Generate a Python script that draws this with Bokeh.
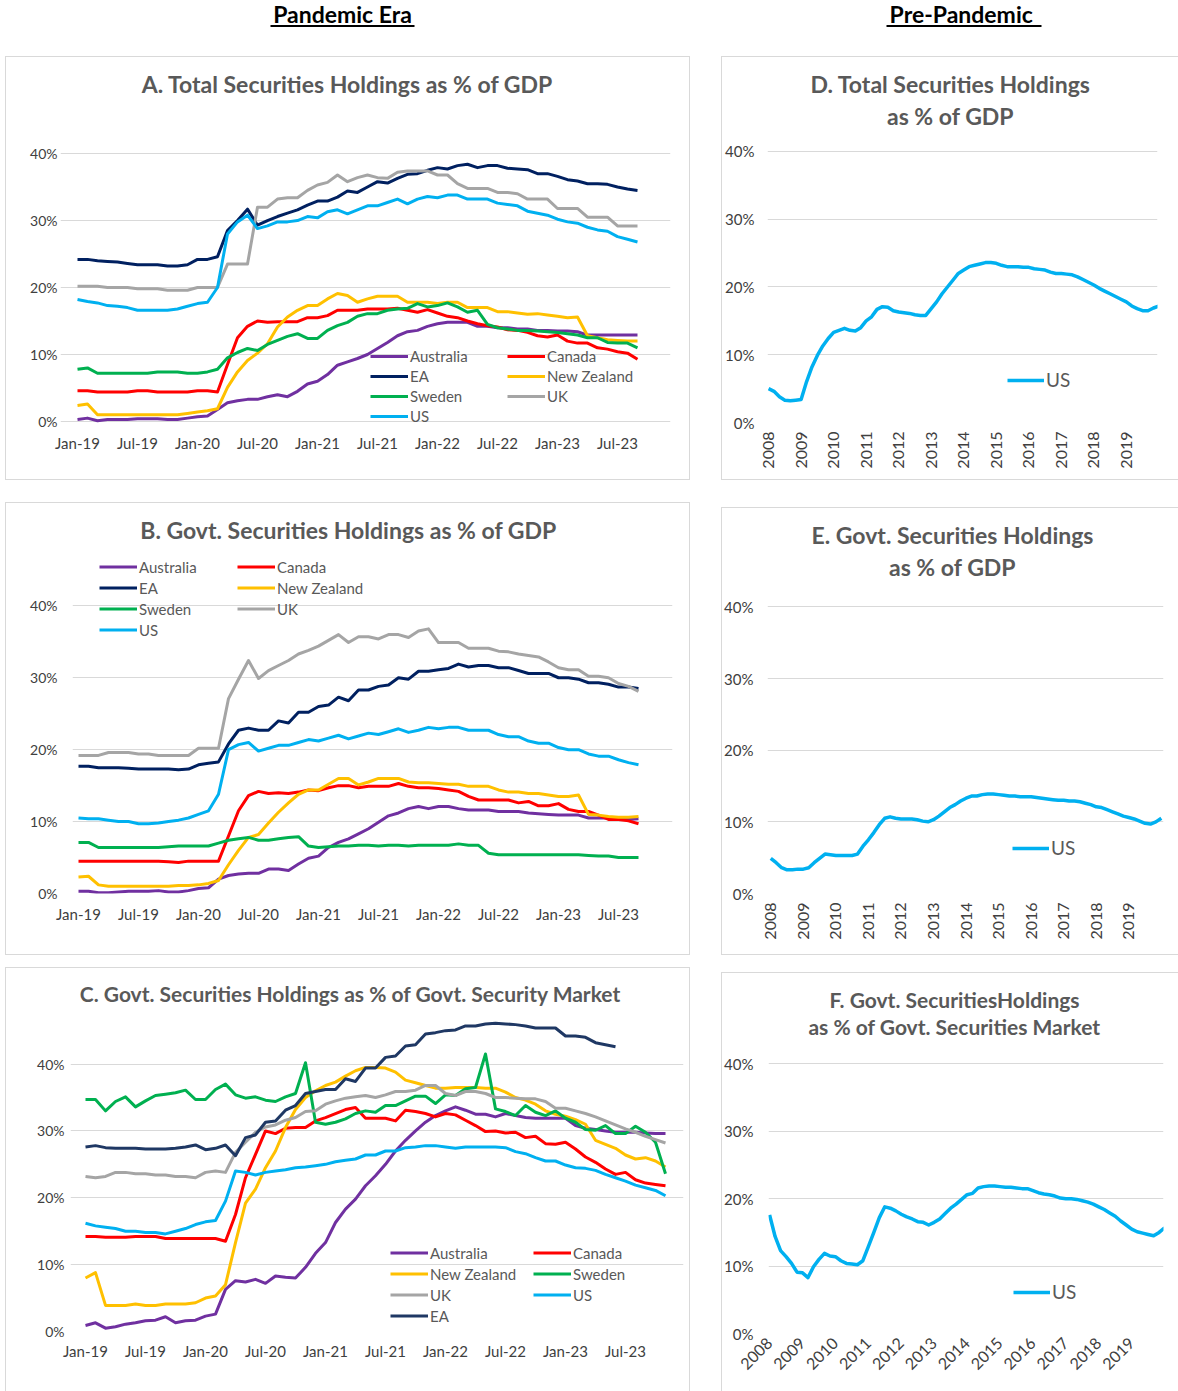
import math
from bokeh.plotting import figure
from bokeh.models import (FixedTicker, PrintfTickFormatter, Legend, LegendItem, Label,
                          ColumnDataSource, Spacer, Range1d)
from bokeh.layouts import column, row
from bokeh.embed import file_html
from bokeh.resources import INLINE
from bokeh.core.properties import value

FONT = "Lato"
TITLE_C = "#595959"
TICK_C = "#404040"
GRID_C = "#d9d9d9"

# ---------------- data ----------------
header_texts = ["Pandemic Era", "Pre-Pandemic "]
pandemic_tick_labels = ["Jan-19", "Jul-19", "Jan-20", "Jul-20", "Jan-21", "Jul-21",
                        "Jan-22", "Jul-22", "Jan-23", "Jul-23"]
prepandemic_tick_labels = ["2008", "2009", "2010", "2011", "2012", "2013",
                           "2014", "2015", "2016", "2017", "2018", "2019"]
percent_ticks = [0, 10, 20, 30, 40]

colors = {"Australia": "#7030A0", "Canada": "#FF0000", "EA": "#002060",
          "New Zealand": "#FFC000", "Sweden": "#00B050", "UK": "#A5A5A5", "US": "#00B0F0"}
ea_color_c = "#1F3864"

# A. Total securities holdings as % of GDP (Jan-19 .. Sep-23)
A_australia = [0.3, 0.5, 0.1, 0.3, 0.3, 0.3, 0.4, 0.4, 0.4, 0.3, 0.3, 0.5, 0.7, 0.8, 1.8, 2.8, 3.1, 3.3, 3.3, 3.7,
               4.0, 3.7, 4.5, 5.6, 6.0, 7.0, 8.4, 8.9, 9.4, 10.0, 10.9, 11.8, 12.8, 13.4, 13.6, 14.2, 14.6, 14.8, 14.8, 14.8,
               14.2, 14.2, 14.0, 14.0, 13.8, 13.8, 13.6, 13.6, 13.5, 13.5, 13.4, 12.9, 12.9, 12.9, 12.9, 12.9, 12.9]
A_canada = [4.6, 4.6, 4.4, 4.4, 4.4, 4.4, 4.6, 4.6, 4.4, 4.4, 4.4, 4.4, 4.6, 4.6, 4.4, 8.5, 12.5, 14.2, 15.0, 14.8,
            14.9, 14.9, 14.9, 15.5, 15.5, 15.8, 16.6, 16.6, 16.6, 16.8, 16.8, 16.8, 16.9, 16.6, 16.3, 16.7, 16.2, 15.7, 15.5, 15.0,
            14.6, 14.3, 14.1, 13.7, 13.6, 13.3, 12.8, 12.6, 12.9, 12.0, 11.7, 11.7, 11.0, 10.8, 10.4, 10.2, 9.3]
A_ea = [24.2, 24.2, 24.0, 23.9, 23.8, 23.6, 23.4, 23.4, 23.4, 23.2, 23.2, 23.4, 24.2, 24.2, 24.6, 28.5, 30.0, 31.7, 29.3, 30.0,
        30.6, 31.1, 31.6, 32.3, 32.9, 32.9, 33.5, 34.4, 34.2, 35.0, 35.8, 35.6, 36.3, 36.9, 37.0, 37.5, 37.9, 37.7, 38.2, 38.4,
        37.9, 38.2, 38.2, 37.8, 37.7, 37.6, 37.0, 37.0, 36.6, 36.1, 35.9, 35.5, 35.5, 35.4, 35.0, 34.7, 34.5]
A_nz = [2.4, 2.6, 1.0, 1.0, 1.0, 1.0, 1.0, 1.0, 1.0, 1.0, 1.0, 1.2, 1.4, 1.6, 1.9, 5.1, 7.4, 9.1, 10.2, 11.6,
        14.1, 15.6, 16.6, 17.3, 17.3, 18.3, 19.1, 18.8, 17.8, 18.3, 18.7, 18.7, 18.7, 17.8, 17.8, 17.8, 17.6, 17.8, 17.8, 17.0,
        17.0, 17.0, 16.4, 16.4, 16.2, 16.0, 16.1, 15.9, 15.7, 15.5, 15.6, 12.8, 12.5, 12.2, 12.1, 12.0, 12.0]
A_sweden = [7.8, 8.0, 7.2, 7.2, 7.2, 7.2, 7.2, 7.2, 7.4, 7.4, 7.4, 7.2, 7.2, 7.4, 7.8, 9.5, 10.3, 10.9, 10.6, 11.5,
            12.1, 12.7, 13.1, 12.4, 12.4, 13.6, 14.3, 14.8, 15.7, 16.1, 16.1, 16.6, 16.8, 16.9, 17.6, 17.1, 17.3, 17.7, 17.1, 16.3,
            16.6, 14.5, 14.0, 13.8, 13.6, 13.6, 13.5, 13.4, 13.3, 13.1, 12.9, 12.5, 12.5, 11.8, 11.7, 11.7, 11.0]
A_uk = [20.2, 20.2, 20.2, 20.0, 20.0, 20.0, 19.8, 19.8, 19.8, 19.6, 19.6, 19.6, 20.0, 20.0, 20.0, 23.5, 23.5, 23.5, 32.0, 32.0,
        33.2, 33.4, 33.4, 34.5, 35.3, 35.7, 36.8, 35.8, 36.4, 36.8, 36.4, 36.3, 37.2, 37.4, 37.4, 37.4, 36.8, 36.8, 35.5, 34.8,
        34.8, 34.8, 34.2, 34.2, 34.0, 33.2, 33.2, 33.2, 31.8, 31.8, 31.8, 30.5, 30.5, 30.5, 29.2, 29.2, 29.2]
A_us = [18.2, 17.9, 17.7, 17.3, 17.2, 17.0, 16.6, 16.6, 16.6, 16.6, 16.8, 17.2, 17.6, 17.8, 20.0, 28.0, 29.8, 30.8, 28.8, 29.2,
        29.8, 29.8, 30.0, 30.6, 30.4, 31.3, 31.6, 31.0, 31.6, 32.2, 32.2, 32.7, 33.2, 32.5, 33.2, 33.6, 33.4, 33.8, 33.8, 33.2,
        33.2, 33.2, 32.6, 32.4, 32.2, 31.4, 31.1, 30.8, 30.2, 29.8, 29.6, 29.0, 28.6, 28.4, 27.6, 27.2, 26.8]

# B. Govt. securities holdings as % of GDP (Jan-19 .. Sep-23)
B_australia = [0.3, 0.3, 0.1, 0.1, 0.2, 0.3, 0.3, 0.3, 0.4, 0.2, 0.2, 0.4, 0.7, 0.8, 2.0, 2.5, 2.7, 2.8, 2.8, 3.4,
               3.4, 3.2, 4.1, 4.9, 5.2, 6.4, 7.1, 7.6, 8.3, 9.0, 9.9, 10.8, 11.2, 11.8, 12.1, 11.8, 12.1, 12.1, 11.8, 11.6,
               11.6, 11.6, 11.4, 11.4, 11.4, 11.2, 11.1, 11.0, 10.9, 10.9, 10.9, 10.5, 10.5, 10.5, 10.4, 10.3, 10.4]
B_canada = [4.5, 4.5, 4.5, 4.5, 4.5, 4.5, 4.5, 4.5, 4.5, 4.4, 4.3, 4.5, 4.5, 4.5, 4.5, 8.0, 11.5, 13.6, 14.2, 13.9,
            14.0, 13.9, 14.1, 14.4, 14.3, 14.7, 15.0, 15.0, 14.7, 14.9, 14.9, 14.9, 15.3, 14.9, 14.7, 14.7, 14.6, 14.4, 14.2, 13.5,
            13.0, 13.0, 13.0, 13.0, 12.6, 12.8, 12.2, 12.2, 12.5, 11.7, 11.4, 11.4, 10.9, 10.3, 10.3, 10.1, 9.7]
B_ea = [17.7, 17.7, 17.5, 17.5, 17.5, 17.4, 17.3, 17.3, 17.3, 17.3, 17.2, 17.3, 17.9, 18.1, 18.3, 20.8, 22.7, 23.0, 22.7, 22.7,
        24.0, 23.7, 25.2, 25.2, 26.0, 26.2, 27.3, 26.8, 28.3, 28.3, 28.8, 29.0, 30.0, 29.8, 30.9, 30.9, 31.1, 31.3, 31.9, 31.5,
        31.7, 31.7, 31.4, 31.4, 31.0, 30.6, 30.6, 30.6, 30.0, 30.0, 29.8, 29.3, 29.3, 29.1, 28.7, 28.7, 28.5]
B_nz = [2.3, 2.4, 1.2, 1.0, 1.0, 1.0, 1.0, 1.0, 1.0, 1.0, 1.1, 1.1, 1.2, 1.4, 1.8, 4.0, 6.0, 7.8, 8.2, 9.8,
        11.3, 12.6, 13.8, 14.4, 14.4, 15.2, 16.0, 16.0, 15.1, 15.5, 16.0, 16.0, 16.0, 15.5, 15.4, 15.4, 15.3, 15.2, 15.2, 14.9,
        14.9, 14.9, 14.4, 14.1, 14.1, 13.9, 13.9, 13.7, 13.5, 13.5, 13.7, 11.0, 10.9, 10.7, 10.6, 10.6, 10.7]
B_sweden = [7.1, 7.1, 6.4, 6.4, 6.4, 6.4, 6.4, 6.4, 6.4, 6.5, 6.6, 6.6, 6.6, 6.6, 7.0, 7.4, 7.6, 7.8, 7.4, 7.4,
            7.6, 7.8, 7.9, 6.6, 6.4, 6.5, 6.6, 6.6, 6.7, 6.7, 6.6, 6.7, 6.7, 6.6, 6.7, 6.7, 6.7, 6.7, 6.9, 6.7,
            6.7, 5.6, 5.4, 5.4, 5.4, 5.4, 5.4, 5.4, 5.4, 5.4, 5.4, 5.3, 5.2, 5.2, 5.0, 5.0, 5.0]
B_uk = [19.2, 19.2, 19.2, 19.6, 19.6, 19.6, 19.4, 19.4, 19.2, 19.2, 19.2, 19.2, 20.2, 20.2, 20.2, 27.1, 29.8, 32.4, 29.9, 31.0,
        31.7, 32.4, 33.3, 33.8, 34.4, 35.2, 36.0, 34.9, 35.7, 35.7, 35.4, 36.0, 36.0, 35.6, 36.5, 36.8, 34.9, 34.9, 34.9, 34.1,
        34.1, 34.1, 33.7, 33.6, 33.3, 33.1, 32.9, 32.2, 31.4, 31.1, 31.1, 30.2, 30.2, 30.0, 29.2, 28.8, 28.1]
B_us = [10.5, 10.4, 10.4, 10.2, 10.0, 10.0, 9.7, 9.7, 9.8, 10.0, 10.2, 10.5, 11.0, 11.5, 13.8, 20.0, 20.7, 21.0, 19.8, 20.2,
        20.6, 20.6, 21.0, 21.4, 21.2, 21.6, 22.0, 21.5, 21.9, 22.3, 22.1, 22.5, 22.9, 22.4, 22.7, 23.1, 22.9, 23.1, 23.1, 22.7,
        22.7, 22.7, 22.1, 21.8, 21.8, 21.2, 20.9, 20.9, 20.3, 20.0, 20.0, 19.4, 19.1, 19.1, 18.6, 18.2, 17.9]

# C. Govt. securities holdings as % of govt. security market (Jan-19 .. Nov-23; EA to Jun-23)
C_australia = [0.9, 1.3, 0.5, 0.7, 1.1, 1.3, 1.6, 1.7, 2.2, 1.3, 1.6, 1.7, 2.3, 2.6, 6.3, 7.6, 7.4, 7.8, 7.2, 8.3,
               8.1, 8.0, 9.6, 11.7, 13.3, 16.3, 18.3, 19.8, 21.8, 23.3, 25.0, 27.0, 28.6, 30.0, 31.3, 32.3, 33.0, 33.6, 33.1, 32.5,
               32.5, 32.1, 32.6, 32.3, 32.0, 31.9, 31.9, 31.9, 31.9, 30.8, 30.4, 30.2, 30.0, 29.8, 29.8, 29.8, 29.7, 29.6, 29.6]
C_canada = [14.2, 14.2, 14.1, 14.1, 14.1, 14.2, 14.2, 14.2, 13.9, 13.9, 13.9, 13.9, 13.9, 13.9, 13.5, 17.5, 23.0, 26.5, 30.0, 29.6,
            30.4, 30.5, 30.5, 31.5, 32.0, 32.6, 33.2, 33.5, 31.9, 31.9, 31.9, 31.5, 33.1, 32.9, 32.6, 32.1, 32.6, 32.4, 31.6, 30.8,
            29.9, 30.0, 29.7, 29.8, 29.0, 29.2, 28.1, 28.0, 28.3, 27.3, 26.1, 25.3, 24.3, 23.5, 23.8, 22.7, 22.2, 22.0, 21.8]
C_ea = [27.6, 27.8, 27.5, 27.4, 27.4, 27.4, 27.3, 27.3, 27.3, 27.4, 27.6, 27.9, 27.2, 27.4, 27.9, 26.3, 29.0, 29.4, 31.3, 31.5,
        33.1, 33.8, 35.6, 35.9, 36.2, 36.2, 37.8, 37.4, 39.4, 39.4, 41.0, 41.2, 42.7, 42.9, 44.5, 44.7, 45.0, 45.1, 45.7, 45.7,
        46.0, 46.1, 46.0, 45.9, 45.7, 45.4, 45.4, 45.4, 44.2, 44.2, 44.0, 43.2, 42.9, 42.6]
C_nz = [8.0, 8.8, 3.9, 3.9, 3.9, 4.1, 3.9, 3.9, 4.1, 4.1, 4.1, 4.3, 5.0, 5.3, 7.0, 13.3, 19.2, 21.3, 24.5, 27.0,
        30.5, 33.2, 35.0, 36.0, 36.8, 37.3, 38.2, 39.0, 39.5, 39.5, 39.4, 38.8, 37.6, 37.2, 36.8, 36.4, 36.4, 36.5, 36.5, 36.5,
        36.4, 36.4, 35.8, 35.0, 34.6, 34.0, 33.0, 32.5, 32.2, 31.7, 31.0, 28.6, 28.0, 27.4, 26.4, 25.8, 26.0, 25.5, 24.6]
C_sweden = [34.7, 34.7, 33.0, 34.4, 35.1, 33.6, 34.5, 35.3, 35.5, 35.7, 36.1, 34.7, 34.7, 36.2, 37.0, 35.4, 34.9, 35.1, 34.6, 34.4,
            35.1, 35.6, 40.2, 31.3, 31.0, 31.3, 31.8, 32.6, 33.0, 32.8, 33.8, 33.8, 34.5, 35.2, 35.2, 34.1, 35.4, 35.3, 36.3, 36.5,
            41.5, 33.3, 32.9, 32.3, 33.8, 32.8, 32.3, 33.0, 31.9, 31.3, 30.2, 30.1, 30.8, 29.6, 29.6, 30.7, 29.8, 28.3, 23.6]
C_uk = [23.2, 23.0, 23.2, 23.8, 23.8, 23.6, 23.6, 23.4, 23.4, 23.2, 23.2, 23.0, 23.8, 24.0, 23.8, 26.8, 28.3, 29.8, 30.6, 30.9,
        31.6, 32.0, 32.9, 33.0, 34.0, 34.5, 34.9, 35.1, 35.3, 35.0, 35.4, 35.9, 35.9, 36.1, 36.8, 36.8, 35.6, 35.3, 35.9, 35.9,
        35.6, 35.0, 35.0, 34.9, 34.8, 34.8, 34.4, 33.4, 33.4, 33.0, 32.6, 32.1, 31.5, 30.9, 30.3, 29.8, 29.2, 28.7, 28.2]
C_us = [16.2, 15.8, 15.6, 15.4, 15.0, 15.0, 14.8, 14.8, 14.6, 15.0, 15.4, 16.0, 16.4, 16.6, 19.5, 24.0, 23.8, 23.4, 23.8, 24.0,
        24.2, 24.5, 24.6, 24.8, 25.0, 25.4, 25.6, 25.8, 26.4, 26.4, 27.0, 27.0, 27.5, 27.6, 27.8, 27.8, 27.6, 27.4, 27.6, 27.6,
        27.6, 27.6, 27.5, 26.9, 26.6, 26.0, 25.5, 25.5, 24.9, 24.5, 24.4, 24.1, 23.5, 23.0, 22.5, 21.9, 21.5, 21.1, 20.3]

# D, E, F: US pre-pandemic, every second month Jan-2008 .. Jan-2020
D_us = [5.0, 4.6, 3.8, 3.3, 3.2, 3.3, 3.4, 6.0, 8.2, 9.9, 11.3, 12.4, 13.3, 13.6, 13.9, 13.6, 13.5, 14.0, 15.0, 15.6,
        16.7, 17.1, 17.0, 16.5, 16.3, 16.2, 16.1, 15.9, 15.8, 15.8, 16.8, 17.8, 19.0, 20.0, 21.0, 22.0, 22.5, 23.0, 23.2, 23.4,
        23.6, 23.6, 23.5, 23.2, 23.0, 23.0, 23.0, 22.9, 22.9, 22.7, 22.6, 22.5, 22.2, 22.0, 22.0, 21.9, 21.8, 21.5, 21.1, 20.7,
        20.3, 19.8, 19.4, 19.0, 18.6, 18.2, 17.8, 17.2, 16.8, 16.5, 16.5, 16.9, 17.2]
E_us = [4.9, 4.3, 3.6, 3.3, 3.3, 3.4, 3.4, 3.6, 4.3, 4.9, 5.5, 5.4, 5.3, 5.3, 5.3, 5.3, 5.5, 6.6, 7.5, 8.5,
        9.6, 10.5, 10.7, 10.5, 10.4, 10.4, 10.4, 10.3, 10.1, 10.0, 10.3, 10.8, 11.4, 12.0, 12.4, 12.9, 13.3, 13.6, 13.6, 13.8,
        13.9, 13.9, 13.8, 13.7, 13.6, 13.6, 13.5, 13.5, 13.5, 13.4, 13.3, 13.2, 13.1, 13.0, 13.0, 12.9, 12.9, 12.8, 12.6, 12.4,
        12.1, 12.0, 11.7, 11.4, 11.1, 10.8, 10.6, 10.4, 10.1, 9.8, 9.7, 10.0, 10.5]
F_us = [17.6, 14.4, 12.3, 11.4, 10.4, 9.1, 9.0, 8.3, 9.9, 11.0, 11.9, 11.5, 11.4, 10.8, 10.4, 10.3, 10.2, 10.8, 12.9, 15.0,
        17.2, 18.8, 18.6, 18.2, 17.7, 17.3, 17.0, 16.6, 16.5, 16.1, 16.5, 17.0, 17.8, 18.6, 19.2, 19.9, 20.6, 20.8, 21.6, 21.8,
        21.9, 21.9, 21.8, 21.7, 21.7, 21.6, 21.5, 21.5, 21.2, 20.9, 20.7, 20.6, 20.4, 20.1, 20.0, 20.0, 19.9, 19.7, 19.5, 19.2,
        18.8, 18.4, 17.9, 17.4, 16.7, 16.1, 15.5, 15.1, 14.9, 14.7, 14.5, 15.0, 15.7]
pre_months = list(range(0, 146, 2))   # months since Jan-2008


# ---------------- helpers ----------------
def panel(width, height, borders, xr, yr, shadow, ystand, xstand, xsize="15px", ysize="14px"):
    l, r, t, b = borders
    p = figure(width=width, height=height, x_range=Range1d(*xr), y_range=Range1d(*yr),
               output_backend="svg", toolbar_location=None, frame_align=False,
               min_border_left=l, min_border_right=r, min_border_top=t, min_border_bottom=b)
    p.outline_line_color = None
    p.border_fill_color = None
    p.background_fill_color = None
    p.styles = {"box-shadow": shadow}
    p.xgrid.grid_line_color = None
    yt = FixedTicker(ticks=percent_ticks)
    p.yaxis.ticker = yt
    p.ygrid.ticker = yt
    p.ygrid.grid_line_color = GRID_C
    p.ygrid.grid_line_width = 1
    p.yaxis.formatter = PrintfTickFormatter(format="%d%%")
    for ax in (p.xaxis[0], p.yaxis[0]):
        ax.axis_line_color = None
        ax.major_tick_line_color = None
        ax.minor_tick_line_color = None
        ax.major_tick_out = 0
        ax.major_tick_in = 0
        ax.major_label_text_font = FONT
        ax.major_label_text_color = TICK_C
    p.xaxis.major_label_text_font_size = xsize
    p.yaxis.major_label_text_font_size = ysize
    p.yaxis.major_label_standoff = ystand
    p.xaxis.major_label_standoff = xstand
    return p


def set_xticks(p, step, labels):
    p.xaxis.ticker = FixedTicker(ticks=[i * step for i in range(len(labels))])
    p.xaxis.major_label_overrides = {i * step: lab for i, lab in enumerate(labels)}


def add_title(p, lines, xc, ys, size):
    for line, y in zip(lines, ys):
        p.add_layout(Label(x=xc, y=y, x_units="screen", y_units="screen", text=line,
                           text_align="center", text_baseline="middle", text_font=FONT,
                           text_font_size=size, text_font_style="bold", text_color=TITLE_C))


def add_legend(p, rends, names, loc, row_h, size, glyph_w=38):
    items = [LegendItem(label=n, renderers=[rends[n]]) for n in names]
    lg = Legend(items=items, location=loc, orientation="vertical", padding=0, margin=0, spacing=0,
                glyph_width=glyph_w, glyph_height=row_h, label_height=row_h, label_standoff=2,
                label_text_font=FONT, label_text_font_size=size, label_text_color=TITLE_C,
                border_line_color=None, background_fill_alpha=0)
    p.add_layout(lg)


def draw_series(p, series, color_map, lw=3):
    rends = {}
    for name, vals in series:
        rends[name] = p.line(list(range(len(vals))), vals, line_width=lw,
                             line_color=color_map[name], line_join="round")
    return rends


ALL = "inset 0 0 0 1px #d9d9d9"
TLR = "inset 1px 1px 0 0 #d9d9d9, inset -1px 0 0 0 #d9d9d9"
TLB = "inset 1px 1px 0 0 #d9d9d9, inset 0 -1px 0 0 #d9d9d9"
TL = "inset 1px 1px 0 0 #d9d9d9"

# ---------------- header ----------------
hdr = figure(width=1178, height=56, x_range=Range1d(0, 1178), y_range=Range1d(0, 56), frame_align=False,
             x_axis_type=None, y_axis_type=None, min_border=0, output_backend="svg", toolbar_location=None)
hdr.outline_line_color = None
hdr.border_fill_color = None
hdr.background_fill_color = None
hsrc = ColumnDataSource(dict(x=[342, 963.5], y=[43, 43], text=header_texts))
hdr.text(x="x", y="y", text="text", source=hsrc, text_font=value(FONT), text_font_style="bold",
         text_font_size="23px", text_color="black", text_align="center", text_baseline="middle")
hdr.segment(x0=[270, 886], y0=[30.5, 30.5], x1=[414, 1041], y1=[30.5, 30.5], line_width=2, line_color="black")

# ---------------- panel A ----------------
pA = panel(685, 424, (55, 20, 12, 53), (-1.7, 59.3), (-0.9, 52.7), ALL, 3, 6)
set_xticks(pA, 6, pandemic_tick_labels)
rA = draw_series(pA, [("Australia", A_australia), ("Canada", A_canada), ("EA", A_ea), ("New Zealand", A_nz),
                      ("Sweden", A_sweden), ("UK", A_uk), ("US", A_us)], colors)
add_title(pA, ["A. Total Securities Holdings as % of GDP"], 287, [344], "23px")
add_legend(pA, rA, ["Australia", "EA", "Sweden", "US"], (310, 1), 20, "15px")
add_legend(pA, rA, ["Canada", "New Zealand", "UK"], (447, 21), 20, "15px")

# ---------------- panel B ----------------
pB = panel(685, 453, (67, 18, 12, 62), (-0.6, 59.4), (0, 52.7), ALL, 15, 11)
set_xticks(pB, 6, pandemic_tick_labels)
rB = draw_series(pB, [("Australia", B_australia), ("Canada", B_canada), ("EA", B_ea), ("New Zealand", B_nz),
                      ("Sweden", B_sweden), ("UK", B_uk), ("US", B_us)], colors)
add_title(pB, ["B. Govt. Securities Holdings as % of GDP"], 276, [364], "23px")
add_legend(pB, rB, ["Australia", "EA", "Sweden", "US"], (27, 253), 21, "15px")
add_legend(pB, rB, ["Canada", "New Zealand", "UK"], (165, 274), 21, "15px")

# ---------------- panel C ----------------
pC = panel(685, 424, (65, 7, 13, 60), (-1.5, 59.8), (0, 52.5), TLR, 6, 10)
set_xticks(pC, 6, pandemic_tick_labels)
c_colors = dict(colors)
c_colors["EA"] = ea_color_c
rC = draw_series(pC, [("Australia", C_australia), ("Canada", C_canada), ("New Zealand", C_nz), ("Sweden", C_sweden),
                      ("UK", C_uk), ("US", C_us), ("EA", C_ea)], c_colors)
add_title(pC, ["C. Govt. Securities Holdings as % of Govt. Security Market"], 280, [338], "21px")
add_legend(pC, rC, ["Australia", "New Zealand", "UK", "EA"], (320, 5), 21, "15px")
add_legend(pC, rC, ["Canada", "Sweden", "US"], (463, 26), 21, "15px")


# ---------------- right column ----------------
def pre_panel(height, borders, xr, yr, shadow, ystand, xstand, orient, data, title_lines, xc, ys, tsize, loc):
    p = panel(457, height, borders, xr, yr, shadow, ystand, xstand, xsize="16px", ysize="15px")
    set_xticks(p, 12, prepandemic_tick_labels)
    p.xaxis.major_label_orientation = orient
    r = p.line(pre_months, data, line_width=3.5, line_color=colors["US"], line_join="round")
    add_title(p, title_lines, xc, ys, tsize)
    add_legend(p, {"US": r}, ["US"], loc, 20, "19px", 37)
    return p


pD = pre_panel(424, (46, 21, 12, 58), (-0.4, 143.5), (0, 52.25), TLB, 13, 9, math.pi / 2, D_us,
               ["D. Total Securities Holdings", "as % of GDP"], 183, [339, 307], "23px", (240, 31))
pE = pre_panel(448, (44, 15, 12, 62), (-1.2, 144.8), (0, 52.2), TLB, 14, 9, math.pi / 2, E_us,
               ["E. Govt. Securities Holdings", "as % of GDP"], 185, [359, 327], "23px", (245, 34))
pF = pre_panel(419, (46, 15, 14, 58), (-0.4, 143.6), (0, 51.5), TL, 15, 7, math.pi / 4, F_us,
               ["F. Govt. SecuritiesHoldings", "as % of Govt. Securities Market"], 186, [334, 307], "21px", (245, 30))

left_col = column(pA, Spacer(width=685, height=22), pB, Spacer(width=685, height=12), pC)
right_col = column(pD, Spacer(width=457, height=27), pE, Spacer(width=457, height=17), pF)
body = row(Spacer(width=5, height=10), left_col, Spacer(width=31, height=10), right_col)
layout = column(hdr, body)

open("out.html", "w").write(file_html(layout, INLINE, title="Securities holdings"))
